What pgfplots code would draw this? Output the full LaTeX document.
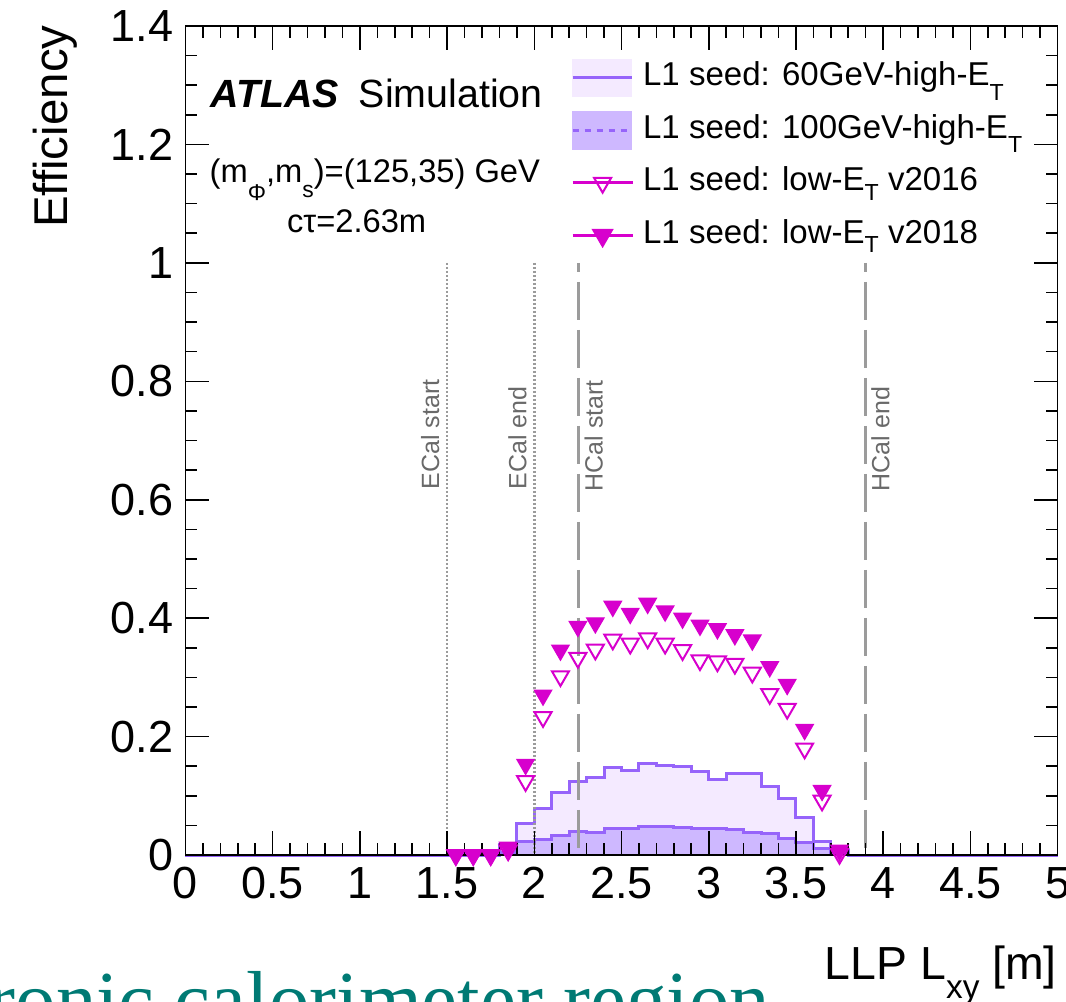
\documentclass[border=0pt]{standalone}
\usepackage{fontspec}
\setmainfont{Liberation Sans}
\newfontfamily\slidefont{Liberation Serif}
\usepackage{pgfplots}
\pgfplotsset{compat=1.18}
\definecolor{lineA}{RGB}{150,100,250}
\definecolor{fillA}{RGB}{244,234,255}
\definecolor{fillB}{RGB}{206,184,255}
\definecolor{mag}{RGB}{215,0,205}
\definecolor{refgray}{RGB}{155,155,155}
\definecolor{labgray}{RGB}{105,105,105}
\definecolor{slide}{RGB}{0,122,116}
\begin{document}
\begin{tikzpicture}
\path[use as bounding box] (-18.55mm,-14.6mm) rectangle (88.05mm,85.5mm);
\begin{axis}[
  at={(0,0)}, anchor=south west,
  scale only axis, width=87.2mm, height=82.9mm,
  xmin=0, xmax=5, ymin=0, ymax=1.4,
  xtick distance=0.5, minor x tick num=4,
  ytick distance=0.2, minor y tick num=3,
  major tick length=2.4mm, minor tick length=1.2mm,
  axis line style={line width=0.45pt},
  every tick/.style={black, line width=0.45pt},
  tick label style={font=\fontsize{12.8}{14}\selectfont},
  /pgf/number format/assume math mode=true,
  axis on top, clip=false,
  legend style={at={(axis cs:2.207,1.358)}, anchor=north west, draw=none, fill=none,
    inner sep=0pt, row sep=0pt, column sep=0.9mm,
    font=\fontsize{9.4}{11}\selectfont,
    nodes={inner ysep=0pt, inner xsep=0pt, text height=3.4mm, text depth=1.85mm}},
  legend cell align=left,
]
% 60 GeV histogram (bin left edges)
\addplot[const plot, fill=fillA, draw=none, forget plot] coordinates {
(0.0,0)(0.1,0)(0.2,0)(0.3,0)(0.4,0)(0.5,0)(0.6,0)(0.7,0)(0.8,0)(0.9,0)
(1.0,0)(1.1,0)(1.2,0)(1.3,0)(1.4,0)(1.5,0.002)(1.6,0.003)(1.7,0.005)(1.8,0.018)(1.9,0.053)
(2.0,0.078)(2.1,0.105)(2.2,0.124)(2.3,0.131)(2.4,0.147)(2.5,0.143)(2.6,0.154)(2.7,0.151)(2.8,0.149)(2.9,0.141)
(3.0,0.128)(3.1,0.138)(3.2,0.138)(3.3,0.116)(3.4,0.096)(3.5,0.064)(3.6,0.022)(3.7,0.008)(3.8,0)(3.9,0)
(4.0,0)(4.1,0)(4.2,0)(4.3,0)(4.4,0)(4.5,0)(4.6,0)(4.7,0)(4.8,0)(4.9,0)(5.0,0)} \closedcycle;
% 100 GeV histogram fill
\addplot[const plot, fill=fillB, draw=none, forget plot] coordinates {
(0.0,0)(1.7,0)(1.8,0.004)(1.9,0.022)
(2.0,0.027)(2.1,0.033)(2.2,0.040)(2.3,0.038)(2.4,0.045)(2.5,0.045)(2.6,0.049)(2.7,0.048)(2.8,0.046)(2.9,0.045)
(3.0,0.045)(3.1,0.043)(3.2,0.038)(3.3,0.037)(3.4,0.028)(3.5,0.021)(3.6,0.011)(3.7,0.003)(3.8,0)(5.0,0)} \closedcycle;
\addplot[const plot, draw=lineA, line width=0.3mm, forget plot] coordinates {
(0.0,0)(1.7,0)(1.8,0.004)(1.9,0.022)
(2.0,0.027)(2.1,0.033)(2.2,0.040)(2.3,0.038)(2.4,0.045)(2.5,0.045)(2.6,0.049)(2.7,0.048)(2.8,0.046)(2.9,0.045)
(3.0,0.045)(3.1,0.043)(3.2,0.038)(3.3,0.037)(3.4,0.028)(3.5,0.021)(3.6,0.011)(3.7,0.003)(3.8,0)(5.0,0)};
\addplot[const plot, draw=lineA, line width=0.3mm, forget plot] coordinates {
(0.0,0)(1.5,0)(1.5,0.002)(1.6,0.003)(1.7,0.005)(1.8,0.018)(1.9,0.053)
(2.0,0.078)(2.1,0.105)(2.2,0.124)(2.3,0.131)(2.4,0.147)(2.5,0.143)(2.6,0.154)(2.7,0.151)(2.8,0.149)(2.9,0.141)
(3.0,0.128)(3.1,0.138)(3.2,0.138)(3.3,0.116)(3.4,0.096)(3.5,0.064)(3.6,0.022)(3.7,0.008)(3.8,0)(5.0,0)};
% reference lines
\addplot[refgray, line width=0.25mm, dash pattern=on 0.2mm off 0.2mm, forget plot] coordinates {(1.5,1)(1.5,0)};
\addplot[refgray, line width=0.25mm, dash pattern=on 0.2mm off 0.2mm, forget plot] coordinates {(2.0,1)(2.0,0)};
\addplot[refgray, line width=0.27mm, dash pattern=on 3.8mm off 1mm, dash phase=2.9mm, forget plot] coordinates {(2.255,1)(2.255,0)};
\addplot[refgray, line width=0.27mm, dash pattern=on 3.8mm off 1mm, dash phase=2.9mm, forget plot] coordinates {(3.9,1)(3.9,0)};
% low-ET v2016 (open)
\addplot[only marks, mark=triangle, mark size=2.8pt, mark options={mag, rotate=180, fill=white, line width=0.2mm}, forget plot] coordinates {
(1.55,0)(1.65,0)(1.75,0)(1.85,0.008)(1.95,0.125)(2.05,0.233)(2.15,0.302)(2.25,0.333)(2.35,0.347)(2.45,0.364)
(2.55,0.357)(2.65,0.366)(2.75,0.357)(2.85,0.346)(2.95,0.329)(3.05,0.327)(3.15,0.323)(3.25,0.308)(3.35,0.272)(3.45,0.247)
(3.55,0.180)(3.65,0.092)(3.75,0.002)};
% low-ET v2018 (filled)
\addplot[only marks, mark=triangle*, mark size=2.8pt, mark options={mag, fill=mag, rotate=180}, forget plot] coordinates {
(1.55,0)(1.65,0)(1.75,0)(1.85,0.013)(1.95,0.153)(2.05,0.270)(2.15,0.346)(2.25,0.386)(2.35,0.392)(2.45,0.420)
(2.55,0.408)(2.65,0.425)(2.75,0.412)(2.85,0.400)(2.95,0.388)(3.05,0.382)(3.15,0.372)(3.25,0.363)(3.35,0.318)(3.45,0.288)
(3.55,0.212)(3.65,0.109)(3.75,0.008)};
% legend
\addlegendimage{legend image code/.code={\fill[fillA] (0,-1.85mm) rectangle (5.9mm,1.85mm); \draw[lineA, line width=0.3mm] (0,0)--(5.9mm,0);}}
\addlegendentry{L1 seed: 60GeV-high-E\raisebox{-0.45em}{\fontsize{6.6}{7}\selectfont T}}
\addlegendimage{legend image code/.code={\fill[fillB] (0,-1.85mm) rectangle (5.9mm,1.85mm); \draw[lineA, line width=0.3mm, dash pattern=on 0.6mm off 0.6mm] (0,0)--(5.9mm,0);}}
\addlegendentry{L1 seed: 100GeV-high-E\raisebox{-0.45em}{\fontsize{6.6}{7}\selectfont T}}
\addlegendimage{mag, line width=0.3mm, mark=triangle, mark size=2.8pt, mark options={rotate=180, fill=white, line width=0.2mm}}
\addlegendentry{L1 seed: low-E\raisebox{-0.3em}{\fontsize{6.6}{7}\selectfont T} v2016}
\addlegendimage{mag, line width=0.3mm, mark=triangle*, mark size=2.8pt, mark options={rotate=180, fill=mag}}
\addlegendentry{L1 seed: low-E\raisebox{-0.3em}{\fontsize{6.6}{7}\selectfont T} v2018}
% texts
\node[anchor=base west, font=\fontsize{11.2}{13}\selectfont, inner sep=0pt] at (axis cs:0.14,1.262) {\textbf{\textit{ATLAS}}\hspace{2mm}Simulation};
\node[anchor=base west, font=\fontsize{9.3}{11}\selectfont, inner sep=0pt] at (axis cs:0.135,1.135) {(m\raisebox{-0.55em}{\fontsize{6.5}{7}\selectfont Φ},m\raisebox{-0.45em}{\fontsize{6.5}{7}\selectfont s})=(125,35) GeV};
\node[anchor=base west, font=\fontsize{9.3}{11}\selectfont, inner sep=0pt] at (axis cs:0.578,1.051) {cτ=2.63m};
\node[rotate=90, anchor=south west, labgray, font=\fontsize{7.1}{8}\selectfont, inner sep=0.7mm] at (axis cs:1.5,0.605) {ECal start};
\node[rotate=90, anchor=south west, labgray, font=\fontsize{7.1}{8}\selectfont, inner sep=0.7mm] at (axis cs:2.0,0.605) {ECal end};
\node[rotate=90, anchor=north west, labgray, font=\fontsize{7.1}{8}\selectfont, inner sep=0.5mm] at (axis cs:2.255,0.605) {HCal start};
\node[rotate=90, anchor=north west, labgray, font=\fontsize{7.1}{8}\selectfont, inner sep=0.5mm] at (axis cs:3.9,0.605) {HCal end};
\node[rotate=90, anchor=base east, font=\fontsize{13.5}{15}\selectfont, inner sep=0pt] at (axis cs:-0.674,1.402) {Efficiency};
\node[anchor=base east, font=\fontsize{13.2}{15}\selectfont, inner sep=0pt] at (axis cs:5.0,-0.211) {LLP L\raisebox{-0.4em}{\fontsize{9.5}{10}\selectfont xy} [m]};
\end{axis}
\node[overlay, anchor=base east, slide, font=\slidefont\fontsize{23}{27}\selectfont, inner sep=0pt] at (58.5mm,-17.2mm) {Hadronic calorimeter region};
\end{tikzpicture}
\end{document}
